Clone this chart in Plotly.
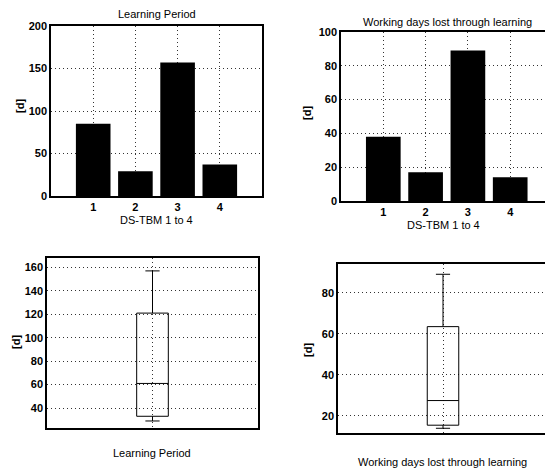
import plotly.graph_objects as go

# ---- data ----
machines = [1, 2, 3, 4]
machine_ticks = ["1", "2", "3", "4"]
learning_period = [85, 29, 157, 37]          # [d]
working_days_lost = [38, 17, 89, 14]         # [d]
lp_yticks = [0, 50, 100, 150, 200]
wd_yticks = [0, 20, 40, 60, 80, 100]
lp_box_yticks = [40, 60, 80, 100, 120, 140, 160]
wd_box_yticks = [20, 40, 60, 80]

W, H = 545, 472
FONT = "Liberation Sans, Arial, sans-serif"
TICK = dict(family=FONT, size=11, color="black", weight="bold")
TXT = dict(family=FONT, size=11, color="black")

def px(x):
    return x / W

def py(y):
    return 1 - y / H

fig = go.Figure()

fig.add_trace(go.Bar(x=machines, y=learning_period, width=0.82,
                     marker=dict(color="black", line=dict(width=0)),
                     xaxis="x", yaxis="y", showlegend=False))
fig.add_trace(go.Bar(x=machines, y=working_days_lost, width=0.82,
                     marker=dict(color="black", line=dict(width=0)),
                     xaxis="x2", yaxis="y2", showlegend=False))
for vals, xa, ya in [(learning_period, "x3", "y3"), (working_days_lost, "x4", "y4")]:
    fig.add_trace(go.Box(y=vals, x0=1, width=0.15, boxpoints=False,
                         quartilemethod="exclusive", whiskerwidth=0.45,
                         fillcolor="rgba(255,255,255,0)",
                         line=dict(color="black", width=1),
                         xaxis=xa, yaxis=ya, showlegend=False))

grid = dict(showgrid=True, gridcolor="#333", griddash="1px,3px", gridwidth=1,
            showline=True, linecolor="black", linewidth=1.5, zeroline=False,
            ticks="", tickfont=TICK)

layout = dict(
    width=W, height=H, margin=dict(l=0, r=0, t=0, b=0, autoexpand=False),
    paper_bgcolor="white", plot_bgcolor="white",
    font=dict(family=FONT, size=11, color="black"),
    xaxis=dict(domain=[px(51), px(262)], range=[0, 5], tickvals=machines,
               ticktext=machine_ticks, mirror=True, anchor="y", **grid),
    yaxis=dict(domain=[py(196), py(26)], range=[0, 200], tickvals=lp_yticks,
               mirror=True, anchor="x", **grid),
    xaxis2=dict(domain=[px(341), 1], range=[0, (545 - 341) / 42.3], tickvals=machines,
                ticktext=machine_ticks, mirror=True, anchor="y2", **grid),
    yaxis2=dict(domain=[py(201), py(32)], range=[0, 100], tickvals=wd_yticks,
                mirror=False, anchor="x2", **grid),
    xaxis3=dict(domain=[px(47), px(258)], range=[0.5, 1.5], tickvals=[1],
                showticklabels=False, mirror=True, anchor="y3", **grid),
    yaxis3=dict(domain=[py(428), py(258)], range=[23, 168], tickvals=lp_box_yticks,
                mirror=True, anchor="x3", **grid),
    xaxis4=dict(domain=[px(338), 1], range=[0.5, 0.5 + 207 / 210], tickvals=[1],
                showticklabels=False, mirror=True, anchor="y4", **grid),
    yaxis4=dict(domain=[py(433), py(264)], range=[11.7, 94], tickvals=wd_box_yticks,
                mirror=False, anchor="x4", **grid),
)
fig.update_layout(**layout)

ann = [
    ("Learning Period", 157, 14, 0, TXT),
    ("Working days lost through learning", 447, 22, 0, TXT),
    ("DS-TBM 1 to 4", 156, 220, 0, TXT),
    ("DS-TBM 1 to 4", 443, 225, 0, TXT),
    ("Learning Period", 152, 453, 0, TXT),
    ("Working days lost through learning", 442, 462, 0, TXT),
    ("[d]", 20, 106, -90, TICK),
    ("[d]", 307, 113, -90, TICK),
    ("[d]", 16, 342, -90, TICK),
    ("[d]", 308, 350, -90, TICK),
]
for text, x, y, ang, f in ann:
    fig.add_annotation(text=text, x=px(x), y=py(y), xref="paper", yref="paper",
                       showarrow=False, textangle=ang, xanchor="center", yanchor="middle",
                       font=f)

fig.write_html("out.html", config={"displayModeBar": False},
               post_script="document.body.style.margin='0';document.body.style.overflow='hidden';")
